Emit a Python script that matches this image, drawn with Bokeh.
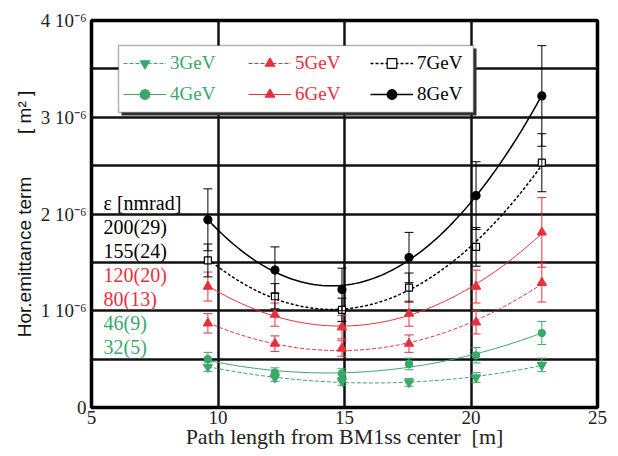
import numpy as np
from bokeh.plotting import figure
from bokeh.models import (ColumnDataSource, Whisker, TeeHead, Legend, LegendItem,
                          FixedTicker, BoxAnnotation, Label)
from bokeh.embed import file_html
from bokeh.resources import INLINE

# ---------------- data (emittance term in units of 1e-6 m^2) ----------------
path_length = [9.6, 12.25, 14.9, 17.55, 20.2, 22.8]
series_names = ["3GeV", "4GeV", "5GeV", "6GeV", "7GeV", "8GeV"]
emit_3gev = [0.42, 0.31, 0.27, 0.26, 0.31, 0.44]
err_3gev = [0.05, 0.04, 0.04, 0.04, 0.05, 0.07]
emit_4gev = [0.50, 0.36, 0.35, 0.45, 0.54, 0.77]
err_4gev = [0.07, 0.05, 0.05, 0.06, 0.08, 0.12]
emit_5gev = [0.87, 0.66, 0.61, 0.66, 0.88, 1.29]
err_5gev = [0.10, 0.08, 0.08, 0.09, 0.12, 0.20]
emit_6gev = [1.25, 0.96, 0.83, 0.97, 1.25, 1.81]
err_6gev = [0.15, 0.12, 0.12, 0.13, 0.17, 0.36]
emit_7gev = [1.52, 1.15, 1.01, 1.24, 1.66, 2.53]
err_7gev = [0.17, 0.13, 0.12, 0.15, 0.20, 0.30]
emit_8gev = [1.94, 1.42, 1.22, 1.55, 2.19, 3.22]
err_8gev = [0.32, 0.24, 0.22, 0.26, 0.35, 0.52]

eps_labels = ["ε [nmrad]", "200(29)", "155(24)", "120(20)", "80(13)", "46(9)", "32(5)"]
x_ticks = [5, 10, 15, 20, 25]
y_ticks = [0, 1, 2, 3, 4]
y_minor_ticks = [0.5, 1.5, 2.5, 3.5]
y_tick_labels = ["0", "1 10⁻⁶", "2 10⁻⁶", "3 10⁻⁶", "4 10⁻⁶"]
x_title = "Path length from BM1ss center\u00a0 [m]"
y_title = "Hor.emittance term\u2003\u2003\u2005[ m² ]"

# ---------------- styles ----------------
GREEN = "#3aa86a"
RED = "#e8303c"
BLACK = "#000000"
SERIF = "Liberation Serif"
SANS = "Liberation Sans"
styles = {
    "3GeV": dict(color=GREEN, marker="inverted_triangle", dash="4 2", fill=GREEN, lw=1, size=9),
    "4GeV": dict(color=GREEN, marker="circle", dash="solid", fill=GREEN, lw=1, size=7),
    "5GeV": dict(color=RED, marker="triangle", dash="4 2", fill=RED, lw=1, size=9),
    "6GeV": dict(color=RED, marker="triangle", dash="solid", fill=RED, lw=1, size=9),
    "7GeV": dict(color=BLACK, marker="square", dash="3 2", fill="white", lw=1.5, size=7),
    "8GeV": dict(color=BLACK, marker="circle", dash="solid", fill=BLACK, lw=1.5, size=8),
}
eps_colors = [BLACK, BLACK, BLACK, RED, RED, GREEN, GREEN]

values = dict(zip(series_names, [emit_3gev, emit_4gev, emit_5gev, emit_6gev, emit_7gev, emit_8gev]))
errors = dict(zip(series_names, [err_3gev, err_4gev, err_5gev, err_6gev, err_7gev, err_8gev]))

p = figure(width=610, height=455, x_range=(5, 25), y_range=(0, 4),
           output_backend="svg", toolbar_location=None,
           min_border_left=91, min_border_right=13, min_border_top=20, min_border_bottom=48)
p.background_fill_color = "white"
p.border_fill_color = "white"
p.outline_line_color = "black"
p.outline_line_width = 3.5

p.xaxis.ticker = FixedTicker(ticks=x_ticks)
p.yaxis.ticker = FixedTicker(ticks=y_ticks, minor_ticks=y_minor_ticks)
p.yaxis.major_label_overrides = {t: lab for t, lab in zip(y_ticks, y_tick_labels)}
for ax in (p.xaxis[0], p.yaxis[0]):
    ax.axis_line_color = None
    ax.major_tick_in = 0
    ax.major_tick_out = 0
    ax.minor_tick_in = 0
    ax.minor_tick_out = 0
    ax.major_label_text_font = SERIF
    ax.major_label_text_font_size = "19px"
    ax.major_label_text_color = "#222"
p.xaxis.major_label_standoff = 3
p.yaxis.major_label_standoff = 5
p.xaxis.axis_label = x_title
p.xaxis.axis_label_text_font = SERIF
p.xaxis.axis_label_text_font_style = "normal"
p.xaxis.axis_label_text_font_size = "22px"
p.xaxis.axis_label_text_color = "#222"
p.xaxis.axis_label_standoff = -3
p.yaxis.axis_label = y_title
p.yaxis.axis_label_text_font = SANS
p.yaxis.axis_label_text_font_style = "normal"
p.yaxis.axis_label_text_font_size = "19px"
p.yaxis.axis_label_text_color = "#111"
p.yaxis.axis_label_standoff = 3

for g in (p.xgrid[0], p.ygrid[0]):
    g.grid_line_color = "#111111"
    g.grid_line_width = 2.5
p.ygrid.minor_grid_line_color = "#111111"
p.ygrid.minor_grid_line_width = 2.5

# ---------------- data glyphs ----------------
renderers = {}
for name in series_names:
    st = styles[name]
    y = np.array(values[name])
    e = np.array(errors[name])
    src = ColumnDataSource(dict(x=path_length, y=y, upper=y + e, lower=y - e))
    wh = Whisker(source=src, base="x", upper="upper", lower="lower",
                 line_color=st["color"], line_width=1,
                 upper_head=TeeHead(size=9, line_color=st["color"], line_width=1),
                 lower_head=TeeHead(size=9, line_color=st["color"], line_width=1))
    wh.level = "glyph"
    p.add_layout(wh)
    coef = np.polyfit(path_length, y, 2)
    xs = np.linspace(min(path_length), max(path_length), 80)
    ln = p.line(xs, np.polyval(coef, xs), line_color=st["color"], line_width=st["lw"],
                line_dash=st["dash"])
    sc = p.scatter("x", "y", source=src, marker=st["marker"], size=st["size"],
                   line_color=st["color"], fill_color=st["fill"], line_width=1.2)
    renderers[name] = (ln, sc)

# ---------------- epsilon labels ----------------
for i, (txt, col) in enumerate(zip(eps_labels, eps_colors)):
    p.add_layout(Label(x=12, y=205 - 24 * i, x_units="screen", y_units="screen", text=txt,
                       text_color=col, text_font=SERIF, text_font_size="20px",
                       text_baseline="middle", text_align="left"))

# ---------------- legend ----------------
p.add_layout(BoxAnnotation(left=30, right=385, bottom=292, top=359, left_units="screen",
                           right_units="screen", bottom_units="screen", top_units="screen",
                           fill_color="#333", fill_alpha=1, line_color=None))
p.add_layout(BoxAnnotation(left=27, right=382, bottom=295, top=362, left_units="screen",
                           right_units="screen", bottom_units="screen", top_units="screen",
                           fill_color="white", fill_alpha=1, line_color="black", line_width=1.5))

col_groups = [(["3GeV", "4GeV"], GREEN, 32), (["5GeV", "6GeV"], RED, 157), (["7GeV", "8GeV"], BLACK, 279)]
for names, col, lx in col_groups:
    items = [LegendItem(label=n, renderers=list(renderers[n])) for n in names]
    lg = Legend(items=items, location=(lx, 301), orientation="vertical",
                background_fill_alpha=0, border_line_color=None, padding=8, spacing=7,
                glyph_width=43, glyph_height=24, label_height=24, label_standoff=4,
                label_text_font=SERIF, label_text_font_size="19px", label_text_color=col,
                margin=0)
    p.add_layout(lg)

open("out.html", "w").write(file_html(p, INLINE))
